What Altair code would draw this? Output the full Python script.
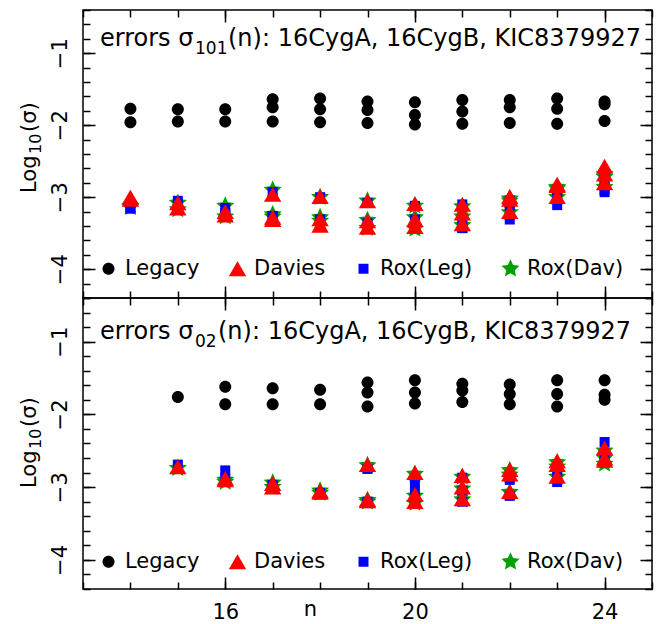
import math
import altair as alt
import pandas as pd

# ---------------- data ----------------
n_101 = [14, 14, 15, 15, 16, 16, 17, 17, 17, 18, 18, 18, 19, 19, 19,
         20, 20, 20, 21, 21, 21, 22, 22, 22, 23, 23, 23, 24, 24, 24]
legacy_101 = [-1.77, -1.96, -1.78, -1.95, -1.78, -1.95, -1.64, -1.75, -1.95,
              -1.63, -1.78, -1.96, -1.67, -1.79, -1.97, -1.68, -1.86, -1.99,
              -1.65, -1.81, -1.98, -1.65, -1.75, -1.97, -1.63, -1.77, -1.98,
              -1.67, -1.71, -1.94]
davies_101 = [-3.00, -3.03, -3.08, -3.15, -3.20, -3.25, -2.96, -3.28, -3.31,
              -2.99, -3.30, -3.39, -3.05, -3.33, -3.42, -3.09, -3.31, -3.41,
              -3.10, -3.22, -3.37, -2.99, -3.03, -3.20, -2.82, -2.84, -2.99,
              -2.57, -2.68, -2.80]
roxleg_101 = [-3.16, -3.14, -3.05, -3.13, -3.15, -3.22, -2.93, -3.26, -3.29,
              -3.00, -3.31, -3.35, -3.08, -3.36, -3.41, -3.12, -3.31, -3.44,
              -3.10, -3.30, -3.43, -3.05, -3.12, -3.31, -2.90, -2.97, -3.11,
              -2.70, -2.85, -2.93]
roxdav_101 = [-3.14, -3.12, -3.08, -3.17, -3.12, -3.27, -2.90, -3.24, -3.27,
              -3.00, -3.28, -3.33, -3.05, -3.32, -3.43, -3.12, -3.28, -3.44,
              -3.13, -3.27, -3.39, -3.02, -3.05, -3.21, -2.86, -2.88, -3.00,
              -2.68, -2.72, -2.86]

n_02 = [15, 16, 16, 17, 17, 18, 18, 19, 19, 19, 20, 20, 20, 21, 21, 21,
        22, 22, 22, 23, 23, 23, 24, 24, 24]
legacy_02 = [-1.76, -1.62, -1.86, -1.64, -1.86, -1.66, -1.86, -1.56, -1.70,
             -1.89, -1.53, -1.70, -1.85, -1.58, -1.67, -1.83, -1.59, -1.72,
             -1.86, -1.53, -1.72, -1.89, -1.53, -1.73, -1.80]
davies_02 = [-2.72, -2.88, -2.90, -2.95, -3.00, -3.05, -3.07, -2.69, -3.17,
             -3.19, -2.80, -3.10, -3.20, -2.84, -3.00, -3.16, -2.76, -2.82,
             -3.06, -2.64, -2.69, -2.85, -2.46, -2.60, -2.63]
roxleg_02 = [-2.69, -2.77, -2.88, -2.97, -3.00, -3.08, -3.10, -2.75, -3.20,
             -3.22, -2.92, -3.05, -3.20, -2.87, -3.05, -3.20, -2.84, -2.90,
             -3.12, -2.72, -2.80, -2.93, -2.38, -2.62, -2.66]
roxdav_02 = [-2.74, -2.90, -2.93, -2.94, -3.00, -3.05, -3.08, -2.70, -3.18,
             -3.20, -2.82, -3.12, -3.22, -2.86, -3.02, -3.17, -2.77, -2.83,
             -3.07, -2.66, -2.72, -2.86, -2.50, -2.60, -2.68]

methods = ["Legacy", "Davies", "Rox(Leg)", "Rox(Dav)"]
title_head = "errors σ"
title_sub_101 = "101"
title_sub_02 = "02"
title_tail = "(n): 16CygA, 16CygB, KIC8379927"
y_title_parts = ["Log", "10", "(σ)"]
x_title = "n"
x_major = [16, 20, 24]
x_minor = [13, 14, 15, 16, 17, 18, 19, 20, 21, 22, 23, 24, 25]
y_major = [-4, -3, -2, -1]
y_minor = [-4.4, -4.2, -4.0, -3.8, -3.6, -3.4, -3.2, -3.0, -2.8, -2.6, -2.4,
           -2.2, -2.0, -1.8, -1.6, -1.4, -1.2, -1.0, -0.8, -0.6, -0.4]

# ---------------- styles ----------------
FONT = "DejaVu Sans"
W = 569
SYM = 400  # one symbol size; each shape's own extent sets its apparent size
colors = ["#000000", "#ff0000", "#0000ff", "#00a000"]


def circle_path(rc):
    return (f"M{rc},0A{rc},{rc} 0 1,1 {-rc},0"
            f"A{rc},{rc} 0 1,1 {rc},0Z")


def triangle_path(w, h):
    return f"M0,{-h}L{-w},{h}L{w},{h}Z"


def square_path(s):
    return f"M{-s},{-s}L{s},{-s}L{s},{s}L{-s},{s}Z"


def star_path(ro, ri):
    pts = []
    for k in range(10):
        r = ro if k % 2 == 0 else ri
        a = math.radians(-90 + 36 * k)
        pts.append(f"{r * math.cos(a):.3f},{r * math.sin(a):.3f}")
    return "M" + "L".join(pts) + "Z"


shapes = [circle_path(0.6), triangle_path(0.87, 0.74),
          square_path(0.5), star_path(0.95, 0.45)]
MAJ, MIN = 12, 7


def long_df(n, leg, dav, rl, rd):
    rows = []
    for name, vals in zip(methods, [leg, dav, rl, rd]):
        for nn, v in zip(n, vals):
            rows.append({"n": nn, "v": v, "method": name})
    return pd.DataFrame(rows)


def tick_axis(orient, values, size, **kw):
    base = dict(orient=orient, values=values, tickSize=size, offset=-size,
                domain=False, grid=False, labels=False, title=None,
                tickColor="black", tickWidth=1.5)
    base.update(kw)
    return alt.Axis(**base)


def label(text, x, y, size, angle=0):
    return alt.Chart(pd.DataFrame({"t": [text]})).mark_text(
        align="left", baseline="alphabetic", font=FONT, fontSize=size,
        angle=angle, color="black").encode(
        x=alt.value(x), y=alt.value(y), text="t:N")


def panel(df, sub, tail_x, show_bottom, H, title_y, legend_y, ytitle_y):
    xs = alt.Scale(domain=[13, 25], nice=False, zero=False)
    ys = alt.Scale(domain=[-4.4, -0.4], nice=False, zero=False)
    legend = alt.Legend(orient="none", legendX=15, legendY=legend_y,
                        direction="horizontal", title=None,
                        labelFont=FONT, labelFontSize=21, labelColor="black",
                        symbolSize=SYM, symbolStrokeWidth=0, symbolOpacity=1,
                        labelOffset=6, columnPadding=27, padding=0)
    color = alt.Color("method:N", scale=alt.Scale(domain=methods, range=colors),
                      legend=legend)
    shape = alt.Shape("method:N", scale=alt.Scale(domain=methods, range=shapes),
                      legend=legend)

    if show_bottom:
        bottom_major = tick_axis(
            "bottom", x_major, MAJ, labels=True, format="d",
            labelFont=FONT, labelFontSize=21, labelColor="black",
            labelPadding=12, title=x_title, titleFont=FONT, titleFontSize=21,
            titleFontWeight="normal", titleColor="black", titleX=227,
            titleY=38, titleAlign="center", titleBaseline="alphabetic")
    else:
        bottom_major = tick_axis("bottom", x_major, MAJ)
    left_major = tick_axis(
        "left", y_major, MAJ, labels=True, format="d", labelAngle=270,
        labelAlign="center", labelBaseline="alphabetic", labelPadding=17,
        labelFont=FONT, labelFontSize=21, labelColor="black")

    spec = [
        ("Legacy", bottom_major, left_major),
        ("Rox(Dav)", tick_axis("bottom", x_minor, MIN), tick_axis("left", y_minor, MIN)),
        ("Rox(Leg)", tick_axis("top", x_major, MAJ), tick_axis("right", y_major, MAJ)),
        ("Davies", tick_axis("top", x_minor, MIN), tick_axis("right", y_minor, MIN)),
    ]
    layers = []
    for m, xa, ya in spec:
        layers.append(
            alt.Chart(df).transform_filter(alt.datum.method == m)
            .mark_point(filled=True, size=SYM, opacity=1, strokeWidth=0)
            .encode(x=alt.X("n:Q", scale=xs, axis=xa),
                    y=alt.Y("v:Q", scale=ys, axis=ya),
                    color=color, shape=shape)
        )
    texts = [
        label(title_head, 17, title_y, 24),
        label(sub, 112, title_y + 8, 17),
        label(title_tail, tail_x, title_y, 24),
        label(y_title_parts[0], -47, ytitle_y, 21, 270),
        label(y_title_parts[1], -42, ytitle_y - 39, 16, 270),
        label(y_title_parts[2], -47, ytitle_y - 61, 21, 270),
    ]
    return (alt.layer(*layers, *texts)
            .resolve_axis(x="independent", y="independent")
            .properties(width=W, height=H))


df101 = long_df(n_101, legacy_101, davies_101, roxleg_101, roxdav_101)
df02 = long_df(n_02, legacy_02, davies_02, roxleg_02, roxdav_02)

chart = (alt.vconcat(panel(df101, title_sub_101, 145, False, 288, 36, 248, 183),
                     panel(df02, title_sub_02, 135, True, 291, 41, 253, 190),
                     spacing=0, bounds="flush")
         .resolve_scale(color="independent", shape="independent")
         .properties(padding={"left": 10, "top": 0, "right": 5, "bottom": 0},
                     background="white")
         .configure_view(stroke="black", strokeWidth=1.5))

chart.save("out.html", embed_options={"renderer": "svg", "actions": False})
